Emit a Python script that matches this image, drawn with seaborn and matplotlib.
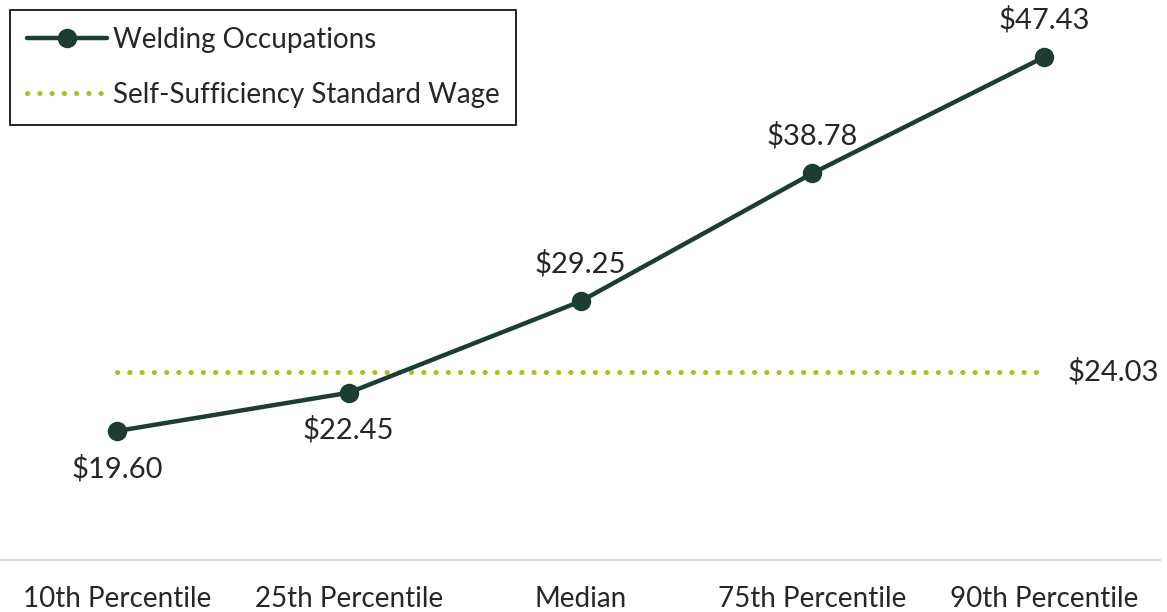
import pandas as pd
import matplotlib.pyplot as plt
import seaborn as sns

categories = ['10th Percentile', '25th Percentile', 'Median', '75th Percentile', '90th Percentile']
wages = [19.60, 22.45, 29.25, 38.78, 47.43]
self_sufficiency = 24.03
label_above = [False, False, True, True, True]

dark_green = '#1d3c32'
lime = '#a8c11b'

sns.set_style('white')
plt.rcParams['font.family'] = ['Lato', 'DejaVu Sans']

df = pd.DataFrame({'category': categories, 'wage': wages})
df['sss'] = [self_sufficiency] * len(categories)

fig = plt.figure(figsize=(11.67, 6.12), dpi=100)
ax = fig.add_axes([1 / 1167, 1 - 560 / 612, 1159 / 1167, (560 - 22.6) / 612])

sns.lineplot(data=df, x='category', y='sss', ax=ax, color=lime, linewidth=3.6,
             linestyle=(0, (0.05, 2.4)), dash_capstyle='round',
             label='Self-Sufficiency Standard Wage')
sns.lineplot(data=df, x='category', y='wage', ax=ax, color=dark_green, linewidth=3.2,
             marker='o', markersize=14, markeredgewidth=0, label='Welding Occupations')

for i, (v, up) in enumerate(zip(wages, label_above)):
    ax.annotate(f'${v:.2f}', (i, v), xytext=(0, 27 if up else -27),
                textcoords='offset points', ha='center', va='center', fontsize=21)
ax.annotate(f'${self_sufficiency:.2f}', (len(categories) - 1, self_sufficiency),
            xytext=(17, 0), textcoords='offset points', ha='left', va='center', fontsize=21)

ax.set_xlim(-0.5, 4.5)
ax.set_ylim(10, 50)
ax.set_xlabel('')
ax.set_ylabel('')
ax.set_yticks([])
ax.tick_params(axis='x', length=0, pad=19, labelsize=20)
for s in ['top', 'left', 'right']:
    ax.spines[s].set_visible(False)
ax.spines['bottom'].set_color('#d9d9d9')
ax.spines['bottom'].set_linewidth(1.5)

handles, labels = ax.get_legend_handles_labels()
leg = ax.legend(handles[::-1], labels[::-1], loc='upper left',
                bbox_to_anchor=(10 / 1167, 1 - 10 / 612), bbox_transform=fig.transFigure,
                fontsize=20, handlelength=2.9, handletextpad=0.2, labelspacing=1.05,
                borderpad=0.6, borderaxespad=0, fancybox=False, frameon=True,
                framealpha=1)
leg.get_frame().set_edgecolor('black')
leg.get_frame().set_linewidth(1.2)

fig.savefig('out.png', dpi=100)
